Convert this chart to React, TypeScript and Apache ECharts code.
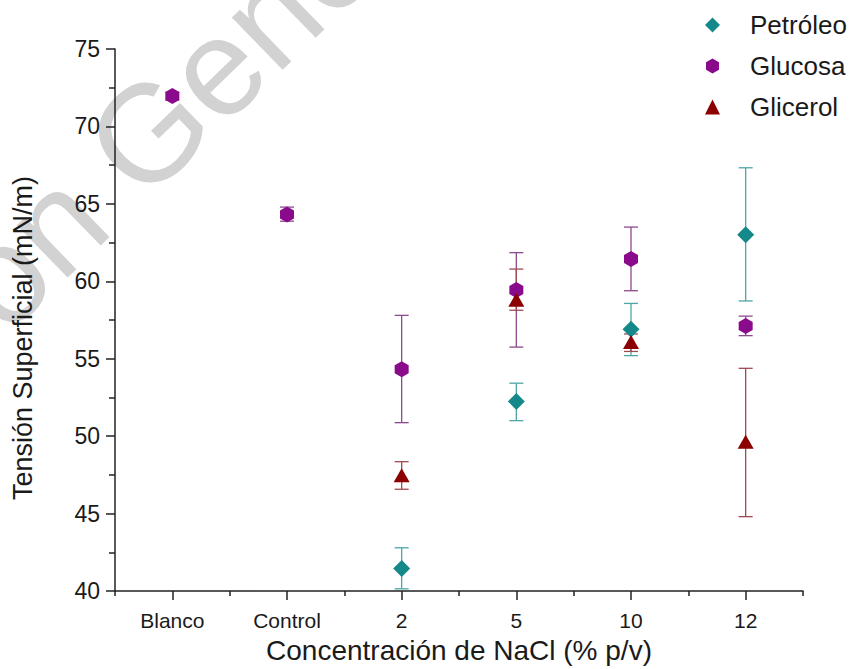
import React, { useEffect, useRef } from "react";
import * as echarts from "echarts";

const categories = ["Blanco", "Control", "2", "5", "10", "12"];
const seriesNames = ["Petróleo", "Glucosa", "Glicerol"];

// mean values (null = no measurement)
const petroleo = [null, null, 41.45, 52.24, 56.9, 63.0];
const glucosa = [71.96, 64.32, 54.32, 59.44, 61.44, 57.12];
const glicerol = [null, null, 47.48, 58.81, 56.08, 49.64];

// error bar lower / upper limits
const petroleoLow = [null, null, 40.14, 51.0, 55.2, 58.73];
const petroleoHigh = [null, null, 42.79, 53.42, 58.57, 67.33];
const glucosaLow = [71.7, 63.88, 50.87, 55.75, 59.39, 56.49];
const glucosaHigh = [72.2, 64.79, 57.8, 61.85, 63.5, 57.75];
const glicerolLow = [null, null, 46.57, 58.13, 55.47, 44.8];
const glicerolHigh = [null, null, 48.35, 60.79, 56.6, 54.38];

const yTicks = { min: 40, max: 75, interval: 5 };

const FONT = '"Liberation Sans", Arial, sans-serif';
const colors = ["#15898a", "#8a0a8c", "#8b0000"];
const barColors = ["#4ea6a6", "#8e4a8e", "#a04a52"];
const HEX = "path://M0,-1 L0.866,-0.5 L0.866,0.5 L0,1 L-0.866,0.5 L-0.866,-0.5 Z";

function errData(low: (number | null)[], high: (number | null)[]) {
  const out: any[] = [];
  low.forEach((l, i) => {
    if (l !== null && high[i] !== null) out.push([i, l, high[i]]);
  });
  return out;
}

function errSeries(name: string, low: any[], high: any[], color: string, z: number) {
  return {
    type: "custom",
    name,
    z,
    silent: true,
    data: errData(low, high),
    renderItem: (params: any, api: any) => {
      const i = api.value(0);
      const lo = api.coord([i, api.value(1)]);
      const hi = api.coord([i, api.value(2)]);
      const hw = 7;
      const style = { stroke: color, lineWidth: 1.3 };
      return {
        type: "group",
        children: [
          { type: "line", shape: { x1: lo[0], y1: lo[1], x2: hi[0], y2: hi[1] }, style },
          { type: "line", shape: { x1: lo[0] - hw, y1: lo[1], x2: lo[0] + hw, y2: lo[1] }, style },
          { type: "line", shape: { x1: hi[0] - hw, y1: hi[1], x2: hi[0] + hw, y2: hi[1] }, style },
        ],
      };
    },
  };
}

export default function App() {
  const ref = useRef<HTMLDivElement>(null);
  useEffect(() => {
    document.body.style.margin = "0";
    const chart = echarts.init(ref.current!, null, { renderer: "svg" });
    const rot = (44 * Math.PI) / 180;
    const ux = Math.cos(rot), uy = -Math.sin(rot);
    const ax = 110, ay = 170;
    const sp = 38;
    const wmFont = `normal 138px ${FONT}`;
    chart.setOption({
      animation: false,
      backgroundColor: "#ffffff",
      textStyle: { fontFamily: FONT },
      graphic: [
        {
          type: "text",
          z: -1,
          x: ax,
          y: ay,
          rotation: rot,
          silent: true,
          style: {
            text: "General de Bibliotecas",
            fill: "#d2d2d2",
            font: wmFont,
            textAlign: "left",
            textVerticalAlign: "middle",
          },
        },
        {
          type: "text",
          z: -1,
          x: ax - sp * ux,
          y: ay - sp * uy,
          rotation: rot,
          silent: true,
          style: {
            text: "Dirección",
            fill: "#d2d2d2",
            font: wmFont,
            textAlign: "right",
            textVerticalAlign: "middle",
          },
        },
      ],
      legend: {
        data: seriesNames,
        orient: "vertical",
        left: 700,
        top: 5,
        itemWidth: 15,
        itemHeight: 15,
        itemGap: 11,
        textStyle: {
          fontFamily: FONT,
          fontSize: 26,
          color: "#1a1a1a",
          lineHeight: 30,
          padding: [0, 0, 0, 25],
        },
      },
      grid: { left: 115, right: 51, top: 49, bottom: 74 },
      xAxis: [
        {
          type: "category",
          data: categories,
          boundaryGap: true,
          name: "Concentración de NaCl (% p/v)",
          nameLocation: "middle",
          nameGap: 45,
          nameTextStyle: { fontFamily: FONT, fontSize: 28, color: "#1a1a1a" },
          axisLine: { show: true, lineStyle: { color: "#222", width: 1.5 } },
          axisTick: { show: true, alignWithLabel: true, length: 9, lineStyle: { color: "#222", width: 1.5 } },
          axisLabel: { fontFamily: FONT, fontSize: 21, color: "#1a1a1a", margin: 19 },
          splitLine: { show: false },
        },
        {
          type: "category",
          data: categories,
          boundaryGap: true,
          position: "bottom",
          axisLine: { show: false },
          axisTick: { show: true, alignWithLabel: false, length: 5, lineStyle: { color: "#222", width: 1.5 } },
          axisLabel: { show: false },
          splitLine: { show: false },
        },
      ],
      yAxis: {
        type: "value",
        min: yTicks.min,
        max: yTicks.max,
        interval: yTicks.interval,
        name: "Tensión Superficial (mN/m)",
        nameLocation: "middle",
        nameGap: 79,
        nameTextStyle: { fontFamily: FONT, fontSize: 27, color: "#1a1a1a", padding: [0, 36, 0, 0] },
        axisLine: { show: true, lineStyle: { color: "#222", width: 1.5 } },
        axisTick: { show: true, length: 9, lineStyle: { color: "#222", width: 1.5 } },
        minorTick: { show: true, splitNumber: 2, length: 6, lineStyle: { color: "#222", width: 1.5 } },
        axisLabel: { fontFamily: FONT, fontSize: 23, color: "#1a1a1a", margin: 15 },
        splitLine: { show: false },
      },
      series: [
        errSeries("errP", petroleoLow, petroleoHigh, barColors[0], 2),
        errSeries("errG", glucosaLow, glucosaHigh, barColors[1], 2),
        errSeries("errC", glicerolLow, glicerolHigh, barColors[2], 2),
        {
          type: "scatter",
          name: seriesNames[0],
          data: petroleo,
          symbol: "diamond",
          symbolSize: [17, 17],
          itemStyle: { color: colors[0], opacity: 1 },
          z: 3,
        },
        {
          type: "scatter",
          name: seriesNames[1],
          data: glucosa,
          symbol: HEX,
          symbolSize: [14, 16],
          itemStyle: { color: colors[1], opacity: 1 },
          z: 4,
        },
        {
          type: "scatter",
          name: seriesNames[2],
          data: glicerol,
          symbol: "triangle",
          symbolSize: [16, 14],
          itemStyle: { color: colors[2], opacity: 1 },
          z: 5,
        },
      ],
    });
    return () => chart.dispose();
  }, []);
  return <div ref={ref} style={{ width: 854, height: 669 }} />;
}
